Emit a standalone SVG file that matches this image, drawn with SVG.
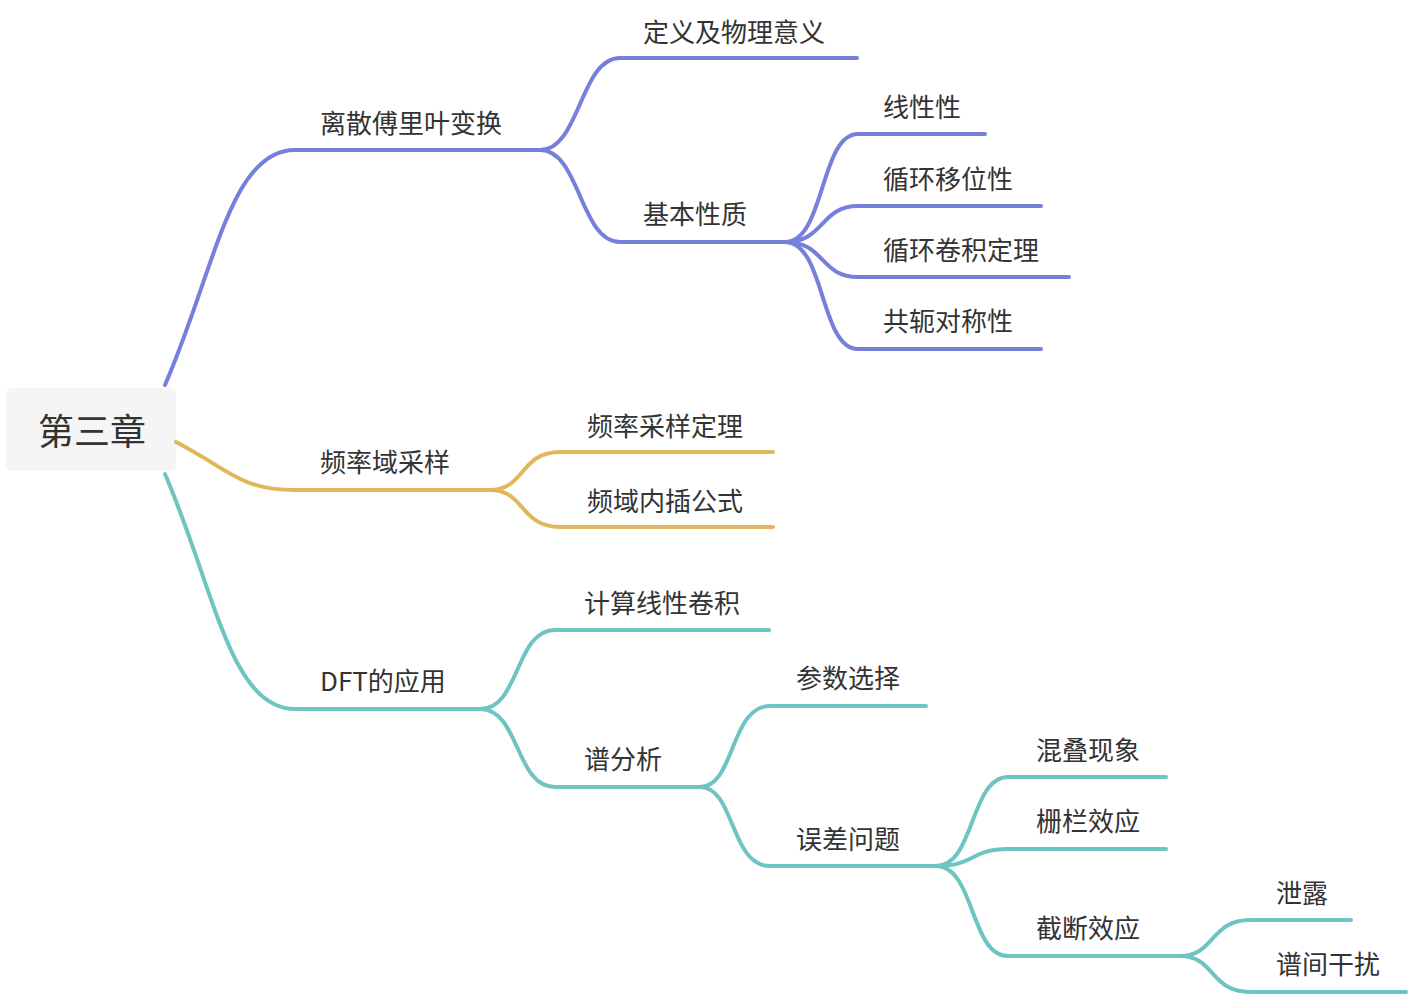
<svg xmlns="http://www.w3.org/2000/svg" width="1410" height="996" viewBox="0 0 1410 996">
<style>
text{font-family:"Noto Sans CJK SC","Noto Sans",sans-serif;font-size:26px;fill:#333}
.c path{fill:none;stroke-width:4;stroke-linecap:round}
.b{stroke:#7580DB}.y{stroke:#E0B75A}.t{stroke:#6EC4C0}
</style>
<rect width="1410" height="996" fill="#fff"/>
<g id="root"><rect x="6" y="388" width="170" height="83" rx="6" fill="#f5f5f5"/><text x="38" y="445" style="font-size:36px">第三章</text></g>
<g class="c" id="connectors">
<path class="b" d="M165 385 C215 270,230 150,295 150 L540 150"/>
<path class="b" d="M540 150 C580 150,580 58,620 58 L857 58"/>
<path class="b" d="M540 150 C580 150,580 242,620 242 L785 242"/>
<path class="b" d="M785 242 C825 242,820 134,858 134 L985 134"/>
<path class="b" d="M785 242 C825 242,820 206,858 206 L1041 206"/>
<path class="b" d="M785 242 C825 242,820 277,858 277 L1069 277"/>
<path class="b" d="M785 242 C825 242,820 349,858 349 L1041 349"/>
<path class="y" d="M176 442 C230 470,240 490,295 490 L490 490"/>
<path class="y" d="M490 490 C525 490,520 452,560 452 L773 452"/>
<path class="y" d="M490 490 C525 490,520 527,560 527 L773 527"/>
<path class="t" d="M165 474 C215 590,230 709,295 709 L480 709"/>
<path class="t" d="M480 709 C520 709,515 630,555 630 L769 630"/>
<path class="t" d="M480 709 C520 709,515 787,555 787 L700 787"/>
<path class="t" d="M700 787 C735 787,730 706,770 706 L926 706"/>
<path class="t" d="M700 787 C735 787,730 866,770 866 L936 866"/>
<path class="t" d="M936 866 C975 866,970 777,1008 777 L1166 777"/>
<path class="t" d="M936 866 C975 866,970 849,1008 849 L1166 849"/>
<path class="t" d="M936 866 C975 866,970 956,1008 956 L1180 956"/>
<path class="t" d="M1180 956 C1215 956,1210 920,1250 920 L1351 920"/>
<path class="t" d="M1180 956 C1215 956,1210 992,1250 992 L1406 992"/>
</g>
<g id="n1"><text x="320" y="133">离散傅里叶变换</text></g>
<g id="n2"><text x="643" y="42">定义及物理意义</text></g>
<g id="n3"><text x="643" y="224">基本性质</text></g>
<g id="n4"><text x="883" y="117">线性性</text></g>
<g id="n5"><text x="883" y="189">循环移位性</text></g>
<g id="n6"><text x="883" y="260">循环卷积定理</text></g>
<g id="n7"><text x="883" y="331">共轭对称性</text></g>
<g id="n8"><text x="320" y="472">频率域采样</text></g>
<g id="n9"><text x="587" y="436">频率采样定理</text></g>
<g id="n10"><text x="587" y="511">频域内插公式</text></g>
<g id="n11"><text x="320" y="691">DFT的应用</text></g>
<g id="n12"><text x="584" y="613">计算线性卷积</text></g>
<g id="n13"><text x="584" y="769">谱分析</text></g>
<g id="n14"><text x="796" y="688">参数选择</text></g>
<g id="n15"><text x="796" y="849">误差问题</text></g>
<g id="n16"><text x="1036" y="760">混叠现象</text></g>
<g id="n17"><text x="1036" y="831">栅栏效应</text></g>
<g id="n18"><text x="1036" y="938">截断效应</text></g>
<g id="n19"><text x="1276" y="903">泄露</text></g>
<g id="n20"><text x="1276" y="974">谱间干扰</text></g>
</svg>
